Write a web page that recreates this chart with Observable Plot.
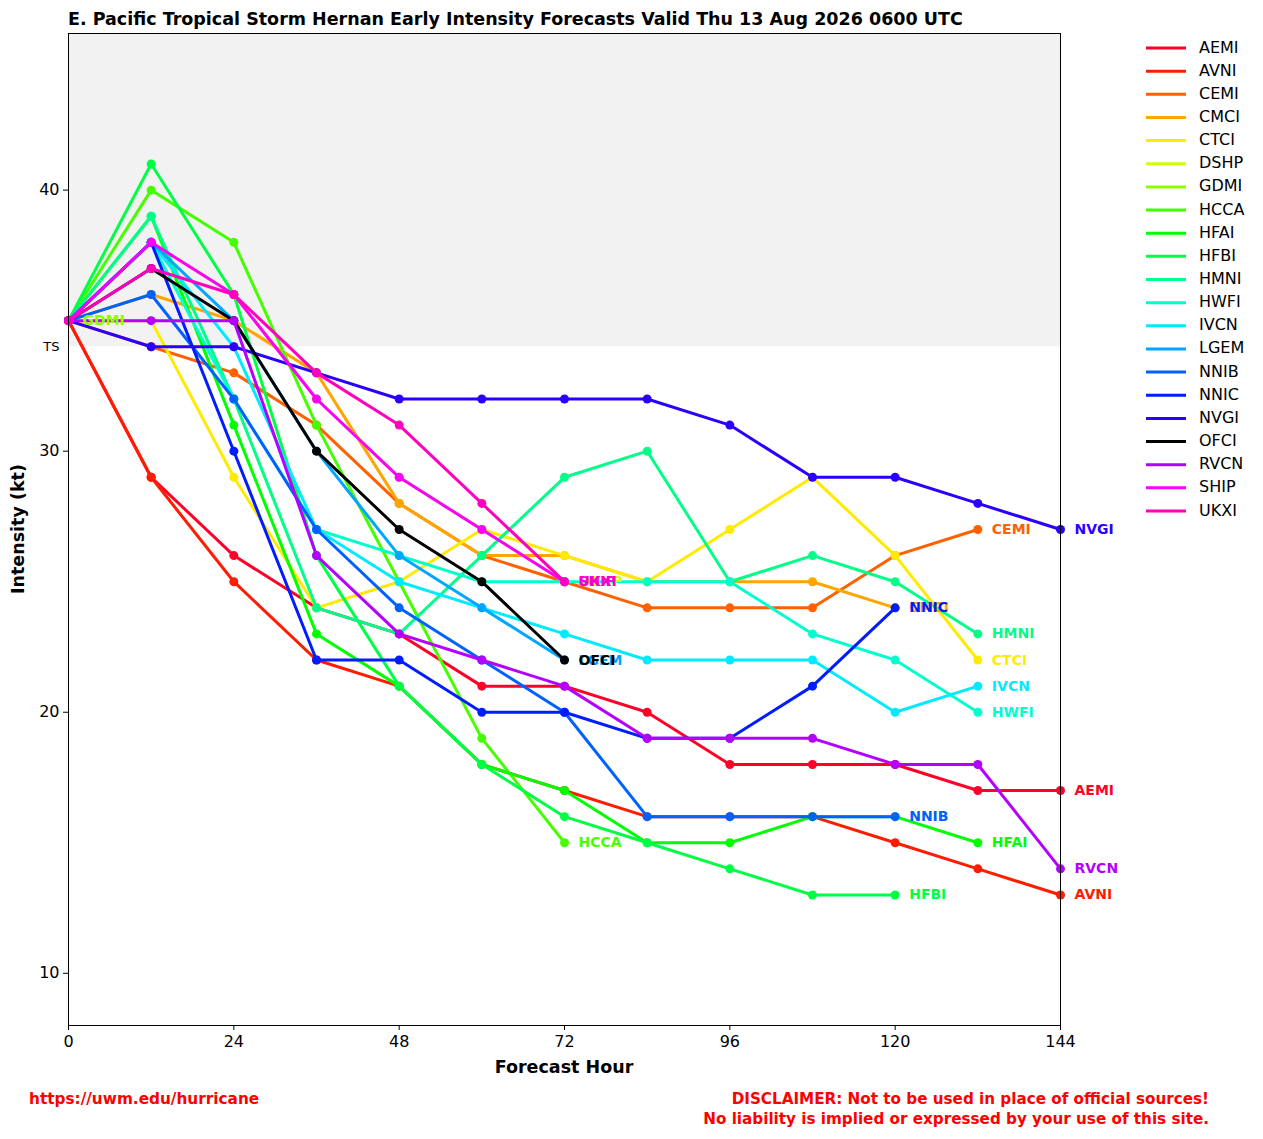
<!DOCTYPE html>
<html><head><meta charset="utf-8">
<script src="https://cdn.jsdelivr.net/npm/d3@7"></script>
<script src="https://cdn.jsdelivr.net/npm/@observablehq/plot@0.6"></script>
<style>
body{margin:0;background:#fff;font-family:"DejaVu Sans",sans-serif;}
#wrap{position:relative;width:1263px;height:1139px;overflow:hidden;}
#wrap svg{position:absolute;left:0;top:0;}
</style></head><body><div id="wrap"></div>
<script>
// ---- data ----
const hours = [0,12,24,36,48,60,72,84,96,108,120,132,144];
const xTicks = [0,24,48,72,96,120,144];
const yTicks = [10,20,30,40];
const models = ["AEMI","AVNI","CEMI","CMCI","CTCI","DSHP","GDMI","HCCA","HFAI","HFBI","HMNI","HWFI","IVCN","LGEM","NNIB","NNIC","NVGI","OFCI","RVCN","SHIP","UKXI"];
const AEMI = [35,29,26,24,23,21,21,20,18,18,18,17,17];
const AVNI = [35,29,25,22,21,18,17,16,16,16,15,14,13];
const CEMI = [35,34,33,31,28,26,25,24,24,24,26,27];
const CMCI = [35,36,35,33,28,26,26,25,25,25,24];
const CTCI = [35,35,29,24,25,27,26,25,27,29,26,22];
const DSHP = [35,38,36,32,29,27,25];
const GDMI = [35];
const HCCA = [35,40,38,31,25,19,15];
const HFAI = [35,39,31,23,21,18,17,15,15,16,16,15];
const HFBI = [35,41,36,26,21,18,16,15,14,13,13];
const HMNI = [35,39,32,24,23,26,29,30,25,26,25,23];
const HWFI = [35,38,32,27,26,25,25,25,25,23,22,20];
const IVCN = [35,38,34,27,25,24,23,22,22,22,20,21];
const LGEM = [35,38,35,30,26,24,22];
const NNIB = [35,36,32,27,24,22,20,16,16,16,16];
const NNIC = [35,38,30,22,22,20,20,19,19,21,24];
const NVGI = [35,34,34,33,32,32,32,32,31,29,29,28,27];
const OFCI = [35,37,35,30,27,25,22];
const RVCN = [35,35,35,26,23,22,21,19,19,19,18,18,14];
const SHIP = [35,38,36,32,29,27,25];
const UKXI = [35,37,36,33,31,28,25];
const values = [AEMI,AVNI,CEMI,CMCI,CTCI,DSHP,GDMI,HCCA,HFAI,HFBI,HMNI,HWFI,IVCN,LGEM,NNIB,NNIC,NVGI,OFCI,RVCN,SHIP,UKXI];
const tsThreshold = 34;
const yMax = 46, yMin = 8;

// ---- style ----
const colors = ["#ff0029","#ff1c00","#ff6000","#ffa500","#ffea00","#cfff00","#8aff00","#45ff00","#00ff00","#00ff44","#00ff89","#00ffcd","#00ebff","#00a6ff","#0061ff","#001cff","#2900ff","#000000","#b400ff","#f900ff","#ff00bf"];
const W = 1263, H = 1139;
const mL = 68, mR = 203, mT = 33, mB = 114;

const seriesData = models.map((m, i) => values[i].map((v, j) => ({model: m, hour: hours[j], kt: v})));
const lastPts = seriesData.map(s => s[s.length - 1]);

const marks = [
  Plot.rect([{x1: 0, x2: 144, y1: tsThreshold, y2: yMax}], {x1: "x1", x2: "x2", y1: "y1", y2: "y2", fill: "#f2f2f2"}),
];
seriesData.forEach((s, i) => {
  if (s.length > 1) marks.push(Plot.line(s, {x: "hour", y: "kt", stroke: colors[i], strokeWidth: 3}));
  marks.push(Plot.dot(s, {x: "hour", y: "kt", fill: colors[i], r: 4.5}));
});
lastPts.forEach((p, i) => {
  marks.push(Plot.text([p], {x: "hour", y: "kt", text: "model", dx: 14, textAnchor: "start", fill: colors[i], fontSize: 14, fontWeight: "bold"}));
});
marks.push(
  Plot.text([{y: tsThreshold}], {x: () => 0, y: "y", text: () => "TS", dx: -9, textAnchor: "end", fontSize: 13, fill: "black"}),
  Plot.axisX({ticks: xTicks, tickSize: 5, tickPadding: 5, label: null, fontSize: 16, tickFormat: d => String(d)}),
  Plot.axisY({ticks: yTicks, tickSize: 5, tickPadding: 4, label: null, fontSize: 16}),
  Plot.frame({stroke: "black", strokeWidth: 1})
);

const chart = Plot.plot({
  width: W, height: H,
  marginLeft: mL, marginRight: mR, marginTop: mT, marginBottom: mB,
  x: {domain: [0, 144]},
  y: {domain: [yMin, yMax]},
  style: {fontFamily: "DejaVu Sans", fontSize: "16px", background: "white", overflow: "visible"},
  marks
});
document.getElementById("wrap").appendChild(chart);

// ---- overlay: title, axis labels, legend, footer ----
const ov = d3.select("#wrap").append("svg").attr("width", W).attr("height", H)
  .style("font-family", "DejaVu Sans");
ov.append("text").attr("x", 68).attr("y", 19.5).attr("dominant-baseline", "middle")
  .attr("font-size", 17.5).attr("font-weight", "bold")
  .text("E. Pacific Tropical Storm Hernan Early Intensity Forecasts Valid Thu 13 Aug 2026 0600 UTC");
ov.append("text").attr("x", 564).attr("y", 1068).attr("dominant-baseline", "middle").attr("text-anchor", "middle")
  .attr("font-size", 17.5).attr("font-weight", "bold").text("Forecast Hour");
ov.append("text").attr("transform", "translate(19,529) rotate(-90)").attr("dominant-baseline", "middle").attr("text-anchor", "middle")
  .attr("font-size", 17.5).attr("font-weight", "bold").text("Intensity (kt)");
const lg = ov.append("g");
models.forEach((m, i) => {
  const y = 48 + i * 23.15;
  lg.append("line").attr("x1", 1146).attr("x2", 1186).attr("y1", y).attr("y2", y).attr("stroke", colors[i]).attr("stroke-width", 3);
  lg.append("text").attr("x", 1199).attr("y", y).attr("dominant-baseline", "middle").attr("font-size", 16).text(m);
});
ov.append("text").attr("x", 29).attr("y", 1099).attr("dominant-baseline", "middle").attr("font-size", 15.3)
  .attr("font-weight", "bold").attr("fill", "#ff0000").text("https://uwm.edu/hurricane");
ov.append("text").attr("x", 1209).attr("y", 1099).attr("dominant-baseline", "middle").attr("text-anchor", "end").attr("font-size", 15.2)
  .attr("font-weight", "bold").attr("fill", "#ff0000").text("DISCLAIMER: Not to be used in place of official sources!");
ov.append("text").attr("x", 1209).attr("y", 1119).attr("dominant-baseline", "middle").attr("text-anchor", "end").attr("font-size", 15.2)
  .attr("font-weight", "bold").attr("fill", "#ff0000").text("No liability is implied or expressed by your use of this site.");
</script></body></html>
